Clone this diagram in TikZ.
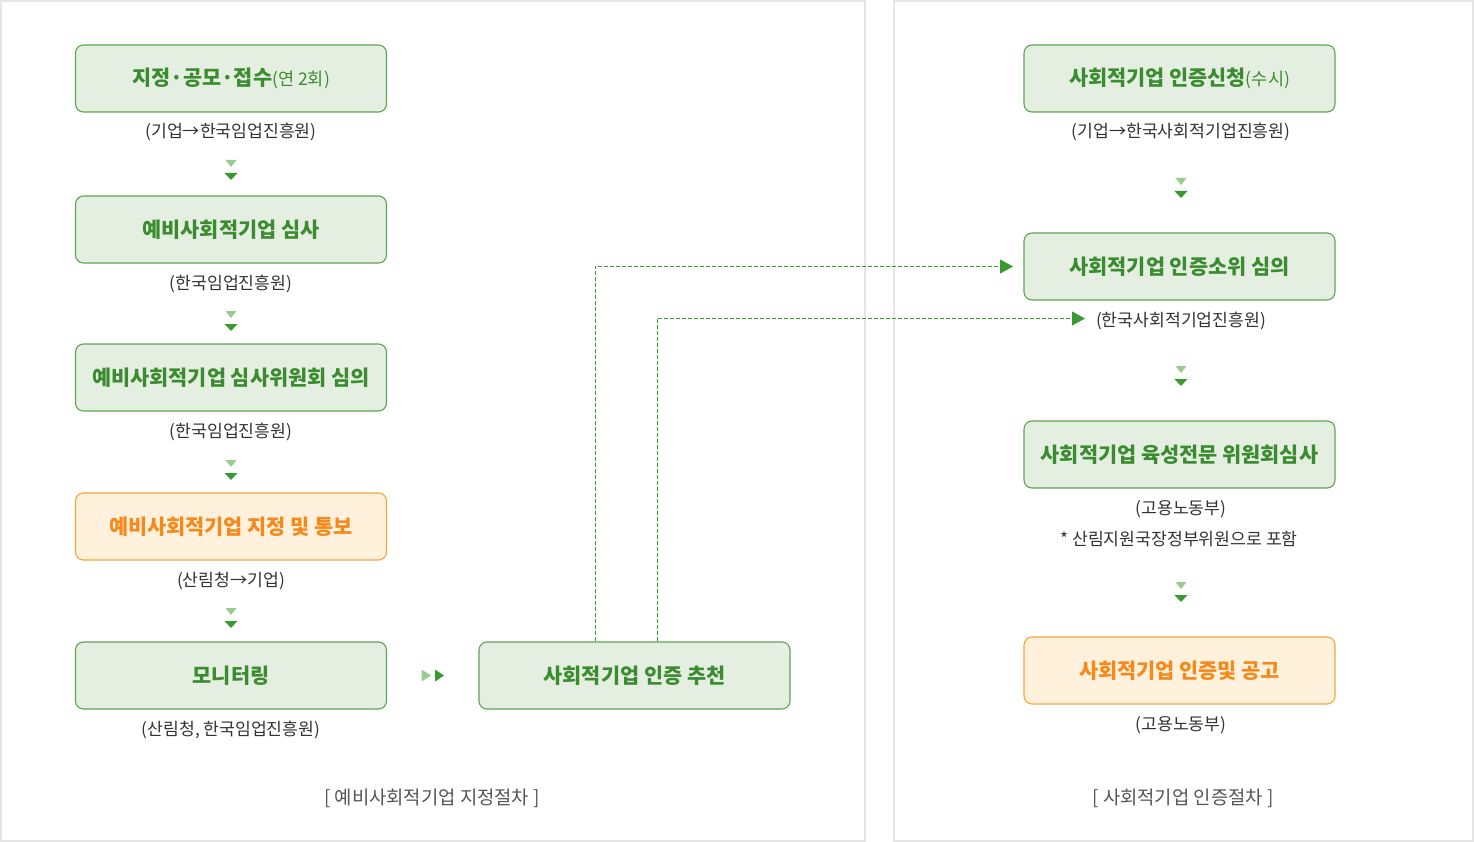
\documentclass[tikz,border=0pt]{standalone}
\usepackage{fontspec}
\setmainfont{Noto Sans CJK KR}
\usetikzlibrary{arrows.meta}
\definecolor{gtext}{HTML}{3B8C30}
\definecolor{gfill}{HTML}{E5EFE1}
\definecolor{gline}{HTML}{5FA553}
\definecolor{otext}{HTML}{F5891C}
\definecolor{ofill}{HTML}{FFF1DC}
\definecolor{oline}{HTML}{F6A73C}
\definecolor{subtext}{HTML}{333333}
\definecolor{captext}{HTML}{555555}
\definecolor{panelline}{HTML}{E6E6E6}
\definecolor{trilight}{HTML}{9ACC8F}
\definecolor{tridark}{HTML}{3A9A32}
\newcommand\parenfont{\mdseries\fontsize{17.5}{20}\selectfont}
\tikzset{
  panel/.style={draw=panelline, line width=1.5pt},
  gbox/.style={draw=gline, fill=gfill, rounded corners=8pt, line width=1.1pt,
    minimum width=311pt, minimum height=67pt, inner sep=0pt, text=gtext,
    font=\fontsize{20.8}{24}\selectfont\bfseries},
  obox/.style={gbox, draw=oline, fill=ofill, text=otext},
  sublabel/.style={text=subtext, font=\fontsize{17.2}{20}\selectfont, inner sep=0pt},
  caption/.style={text=captext, font=\fontsize{18.8}{22}\selectfont, inner sep=0pt},
  dconn/.style={draw=tridark, line width=0.9pt, dash pattern=on 4pt off 2pt,
    -{Triangle[length=13pt,width=14pt,fill=tridark,sep=0pt]}},
}
\begin{document}
\begin{tikzpicture}[x=1pt,y=-1pt]
\useasboundingbox (0,0) rectangle (1474,842);
\fill[white] (0,0) rectangle (1474,842);
\draw[panel] (1,1) rectangle (865,841);
\draw[panel] (894,1) rectangle (1473,841);

% left column
\node[gbox] (l1) at (231,78.5) {지정·공모·접수{\parenfont(연 2회)}};
\node[sublabel] (ls1) at (231,132) {(기업→한국임업진흥원)};
\node[gbox] (l2) at (231,229.5) {예비사회적기업 심사};
\node[sublabel] (ls2) at (231,284) {(한국임업진흥원)};
\node[gbox] (l3) at (231,377.5) {예비사회적기업 심사위원회 심의};
\node[sublabel] (ls3) at (231,432) {(한국임업진흥원)};
\node[obox] (l4) at (231,526.5) {예비사회적기업 지정 및 통보};
\node[sublabel] (ls4) at (231,581) {(산림청→기업)};
\node[gbox] (l5) at (231,675.5) {모니터링};
\node[sublabel] (ls5) at (231,730) {(산림청, 한국임업진흥원)};
\node[gbox] (rec) at (634.5,675.5) {사회적기업 인증 추천};
\node[caption] (c1) at (432,798) {[ 예비사회적기업 지정절차 ]};

% right column
\node[gbox] (r1) at (1179.5,78.5) {사회적기업 인증신청{\parenfont(수시)}};
\node[sublabel] (rs1) at (1181,132) {(기업→한국사회적기업진흥원)};
\node[gbox] (r2) at (1179.5,266.5) {사회적기업 인증소위 심의};
\node[sublabel] (rs2) at (1181,321) {(한국사회적기업진흥원)};
\node[gbox] (r3) at (1179.5,454.5) {사회적기업 육성전문 위원회심사};
\node[sublabel] (rs3) at (1181,509) {(고용노동부)};
\node[sublabel] (rs3b) at (1179,539) {* 산림지원국장정부위원으로 포함};
\node[obox] (r4) at (1179.5,670.5) {사회적기업 인증및 공고};
\node[sublabel] (rs4) at (1181,725) {(고용노동부)};
\node[caption] (c2) at (1183,798) {[ 사회적기업 인증절차 ]};

% vertical double triangles
\foreach \x/\y in {231/163.5, 231/314.5, 231/463.5, 231/611.5, 1181/181.5, 1181/369.5, 1181/585.5}{
  \fill[trilight] ({\x-5.5},{\y-3.5}) -- ({\x+5.5},{\y-3.5}) -- (\x,{\y+3.5}) -- cycle;
  \fill[tridark] ({\x-6.5},{\y+9.5}) -- ({\x+6.5},{\y+9.5}) -- (\x,{\y+16.5}) -- cycle;
}
% horizontal double triangles
\fill[trilight] (421.5,669.5) -- (431,675.5) -- (421.5,681.5) -- cycle;
\fill[tridark] (435,669.5) -- (444,675.5) -- (435,681.5) -- cycle;

% dashed connectors
\coordinate (d1) at (595,0);
\coordinate (d2) at (657,0);
\coordinate (t1) at (1013,266.5);
\coordinate (t2) at (1085,318.5);
\draw[dconn] (rec.north -| d1) |- (t1);
\draw[dconn] (rec.north -| d2) |- (t2);
\end{tikzpicture}
\end{document}
